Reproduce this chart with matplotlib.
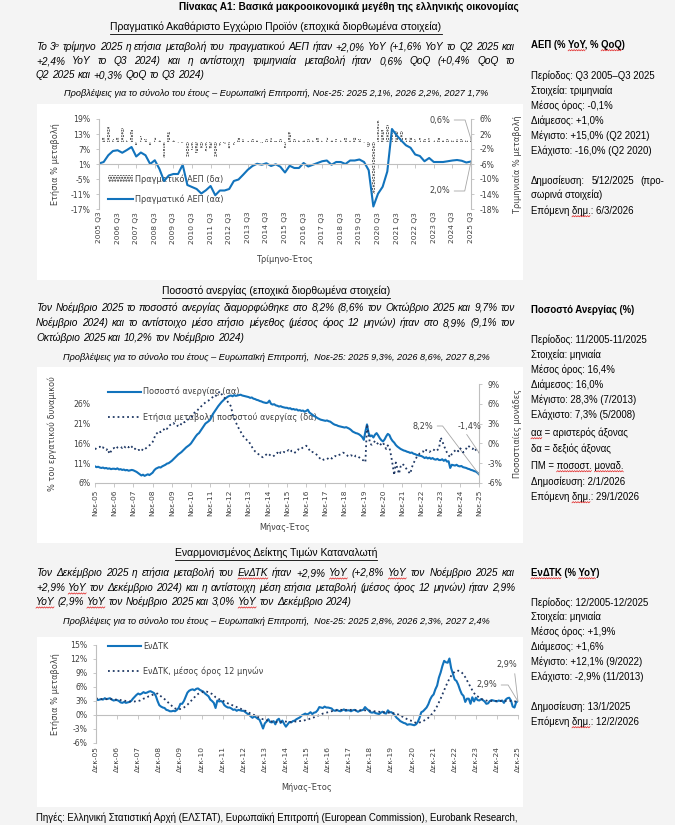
import matplotlib
matplotlib.use('Agg')
import numpy as np
from matplotlib import pyplot as plt
from matplotlib.patches import Rectangle, Patch
from matplotlib.lines import Line2D

# 1 data

q_labels = ['2005 Q3', '2006 Q3', '2007 Q3', '2008 Q3', '2009 Q3', '2010 Q3', '2011 Q3',
            '2012 Q3', '2013 Q3', '2014 Q3', '2015 Q3', '2016 Q3', '2017 Q3', '2018 Q3',
            '2019 Q3', '2020 Q3', '2021 Q3', '2022 Q3', '2023 Q3', '2024 Q3', '2025 Q3']

# real GDP, y/y % (left axis), Q3 2005 .. Q3 2025
gdp_yoy = [1.2, 1.8, 4.5, 6.2, 6.5, 5.5, 6.6, 7.8, 4.0, 5.6,
           4.5, 1.0, 2.5, -1.0, -5.8, -3.6, -3.0, -3.0, 0.7, -7.4,
           -8.2, -9.0, -10.8, -9.5, -7.8, -11.5, -9.6, -9.6, -9.0, -5.8,
           -5.2, -3.3, -1.3, 0.2, 1.1, 0.7, 1.3, 0.2, 0.9, -0.1,
           -2.4, 0.3, -0.6, -0.6, 1.4, 0.0, 0.7, 1.4, 2.1, 2.4,
           0.7, 1.8, 1.8, 1.0, 2.4, 2.4, 2.8, 1.8, -1.5, -16.0,
           -10.9, -8.1, -2.0, 15.0, 12.5, 10.4, 8.5, 7.5, 4.8, 4.2,
           2.1, 3.4, 1.8, 1.8, 1.8, 2.1, 2.4, 2.6, 2.3, 1.6,
           2.0]

# real GDP, q/q % (right axis)
gdp_qoq = [0.6, 1.2, 3.8, 0.8, 1.2, 3.6, 0.4, 3.0, -0.8, 1.6,
           0.7, -0.9, 1.2, 0.3, -4.5, 2.6, 0.4, -0.5, -0.3, -4.2,
           -2.3, -3.1, -1.6, -2.9, -2.1, -4.0, -1.2, -0.6, -2.1, -1.0,
           0.9, 0.6, 0.2, 0.8, 0.4, -0.3, 0.7, 0.9, 0.2, 0.6,
           -1.7, 2.6, 0.6, 0.3, 0.5, 0.8, 0.3, 0.9, 0.4, 1.3,
           0.4, 0.8, 0.5, 1.0, 0.4, 1.2, 0.6, -0.3, -1.5, -14.0,
           5.8, 3.0, 4.5, 3.4, 2.8, 2.9, 1.0, 1.3, 0.7, 1.0,
           0.6, 1.0, 0.3, 0.9, 0.5, 0.7, 0.3, 0.6, 0.8, 0.4,
           0.6]

u_labels = ['Νοε-05', 'Νοε-06', 'Νοε-07', 'Νοε-08', 'Νοε-09', 'Νοε-10', 'Νοε-11',
            'Νοε-12', 'Νοε-13', 'Νοε-14', 'Νοε-15', 'Νοε-16', 'Νοε-17', 'Νοε-18',
            'Νοε-19', 'Νοε-20', 'Νοε-21', 'Νοε-22', 'Νοε-23', 'Νοε-24', 'Νοε-25']

# unemployment rate %, Nov-05 .. Nov-25 (one row = Nov..Oct)
unemp = [10.2, 10.0, 10.1, 9.9, 9.8, 9.9, 9.7, 9.8, 9.6, 9.7, 9.5, 9.6,
         9.6, 9.5, 9.7, 9.4, 9.5, 9.3, 9.4, 9.2, 9.3, 9.1, 9.2, 9.3,
         9.2, 9.0, 8.8, 8.5, 8.2, 7.9, 8.1, 7.8, 8.0, 8.2, 8.0, 8.3,
         8.6, 9.2, 9.6, 9.8, 10.0, 9.9, 10.2, 10.4, 10.6, 10.9, 11.0, 11.3,
         11.6, 12.0, 12.4, 12.8, 13.2, 13.5, 13.8, 14.2, 14.6, 15.0, 15.3, 15.6,
         16.0, 16.6, 17.2, 17.8, 18.3, 18.6, 19.2, 19.8, 20.4, 21.0, 21.3, 21.6,
         22.0, 22.8, 23.6, 24.2, 24.8, 25.4, 25.9, 26.4, 26.8, 27.2, 27.5, 27.8,
         28.0, 28.1, 27.9, 28.2, 28.0, 28.1, 28.2, 28.3, 28.1, 28.0, 27.9, 27.8,
         27.7, 27.5, 27.6, 27.3, 27.2, 27.0, 26.9, 26.7, 26.6, 26.4, 26.3, 26.2,
         26.3, 26.8, 26.0, 25.8, 25.9, 25.6, 25.5, 25.3, 25.4, 25.2, 25.1, 25.0,
         25.0, 24.8, 24.9, 24.6, 24.7, 24.5, 24.6, 24.3, 24.4, 24.2, 24.3, 24.0,
         24.2, 24.5, 23.8, 23.5, 23.2, 22.9, 22.7, 22.4, 22.2, 22.0, 21.9, 21.8,
         21.7, 21.8, 21.6, 21.5, 21.2, 20.9, 20.7, 20.6, 20.4, 20.3, 20.2, 20.1,
         20.0, 20.1, 19.9, 19.7, 19.4, 19.0, 18.8, 18.6, 18.5, 18.3, 18.0, 17.6,
         16.9, 19.0, 20.8, 18.6, 17.8, 18.0, 17.5, 18.2, 18.6, 18.0, 17.3, 16.8,
         16.5, 17.0, 17.8, 18.4, 18.1, 17.2, 16.6, 16.2, 15.6, 15.2, 14.9, 14.6,
         14.4, 14.2, 14.1, 13.9, 13.8, 13.6, 13.7, 13.4, 13.3, 13.1, 13.0, 12.9,
         12.8, 12.6, 12.3, 12.5, 12.2, 12.4, 12.1, 12.3, 12.0, 11.9, 12.1, 11.8,
         11.8, 12.0, 11.6, 11.9, 11.4, 11.5, 9.8, 10.6, 10.5, 10.4, 10.6, 10.3,
         10.2, 10.3, 10.0, 9.9, 9.8, 9.6, 9.5, 9.3, 9.2, 9.0, 8.9, 8.6,
         8.2]

# annual change of the unemployment rate, p.p. (right axis)
unemp_chg = [-0.9, -0.7, -0.6, -0.5, -0.8, -0.6, -0.9, -1.0, -0.8, -1.6, -1.2, -0.8,
             -0.7, -0.9, -0.6, -0.5, -0.5, -0.7, -0.4, -0.6, -0.4, -0.6, -0.3, -0.5,
             -0.9, -0.8, -1.1, -1.0, -1.0, -1.2, -0.8, -0.9, -0.7, -0.5, -0.3, -0.1,
             0.2, 0.8, 1.4, 1.6, 1.9, 1.7, 2.0, 2.1, 2.4, 2.2, 2.6, 2.8,
             2.9, 3.1, 2.8, 2.6, 2.7, 2.6, 3.0, 3.3, 3.2, 3.5, 3.6, 3.8,
             3.9, 4.2, 4.6, 4.9, 5.0, 5.3, 5.5, 5.8, 6.0, 6.2, 6.4, 6.5,
             6.7, 6.9, 7.1, 7.0, 7.4, 7.6, 7.9, 7.5, 7.2, 6.9, 6.6, 6.3,
             6.0, 5.6, 4.4, 3.8, 3.2, 2.7, 2.2, 1.8, 1.3, 1.0, 0.7, 0.5,
             0.4, -0.1, -0.5, -0.9, -1.2, -1.35, -1.6, -1.8, -2.0, -2.1, -1.9, -1.7,
             -1.5, -1.7, -1.9, -2.0, -1.85, -1.6, -1.4, -1.7, -1.35, -1.5, -1.3, -1.4,
             -1.2, -1.0, -1.3, -1.1, -1.1, -1.4, -1.2, -0.9, -1.0, -0.8, -0.6, -0.5,
             -0.35, -0.6, -1.0, -1.35, -1.3, -1.5, -1.6, -1.8, -2.1, -2.4, -2.3, -2.5,
             -2.5, -2.4, -2.2, -2.1, -2.3, -2.0, -1.9, -2.0, -1.8, -1.7, -1.6, -1.4,
             -1.5, -1.7, -1.9, -2.0, -1.8, -1.9, -2.1, -1.85, -1.9, -2.1, -2.3, -2.5,
             -2.6, -2.85, 2.9, 1.2, -0.1, -0.2, 0.0, 0.4, 0.1, -0.1, -0.35, 0.0,
             0.15, -0.4, -0.85, -0.3, -0.6, -1.8, -3.2, -4.8, -2.9, -3.8, -4.6, -3.5,
             -3.1, -3.3, -3.6, -4.0, -4.3, -4.6, -3.7, -3.0, -2.6, -2.1, -1.8, -1.5,
             -1.35, -1.2, -1.4, -1.0, -1.1, -1.3, -1.1, -0.9, -1.0, -1.2, -1.0, -0.8,
             0.9, 0.4, -0.3, -0.85, -1.4, -1.8, -2.1, -1.6, -1.3, -1.1, -0.9, -1.2,
             -0.7, -0.9, -1.35, -1.2, -0.8, -0.35, -0.5, -0.7, -0.85, -0.6, -1.0, -1.2,
             -1.4]

h_labels = ['Δεκ-05', 'Δεκ-06', 'Δεκ-07', 'Δεκ-08', 'Δεκ-09', 'Δεκ-10', 'Δεκ-11',
            'Δεκ-12', 'Δεκ-13', 'Δεκ-14', 'Δεκ-15', 'Δεκ-16', 'Δεκ-17', 'Δεκ-18',
            'Δεκ-19', 'Δεκ-20', 'Δεκ-21', 'Δεκ-22', 'Δεκ-23', 'Δεκ-24', 'Δεκ-25']

# HICP y/y %, Dec-05 .. Dec-25 (one row = Dec..Nov)
hicp = [3.5, 3.2, 3.3, 3.4, 3.3, 3.6, 3.4, 3.5, 3.6, 3.3, 3.1, 3.2,
        3.2, 3.0, 2.7, 2.6, 2.8, 2.6, 2.7, 2.8, 3.0, 3.5, 3.9, 4.3,
        4.6, 4.4, 4.6, 4.9, 4.7, 4.8, 5.0, 5.1, 4.9, 4.7, 4.1, 3.0,
        2.1, 1.8, 1.6, 1.5, 1.1, 1.0, 0.8, 0.8, 0.9, 0.8, 1.1, 1.5,
        2.4, 2.4, 3.0, 3.9, 4.8, 5.2, 5.4, 5.5, 5.3, 5.6, 5.7, 5.4,
        5.2, 5.0, 4.6, 4.3, 4.0, 3.3, 3.0, 2.6, 1.5, 3.1, 2.9, 3.0,
        2.8, 2.1, 1.8, 1.6, 1.6, 1.4, 1.1, 1.2, 0.9, 1.1, 1.0, 0.9,
        0.9, 0.6, 0.3, 0.1, -0.3, -0.6, -0.3, -0.5, -0.8, -1.0, -1.9, -2.9,
        -1.8, -1.4, -0.9, -1.5, -1.6, -1.3, -2.0, -1.1, -0.8, -1.7, -1.2, -1.9,
        -2.5, -2.0, -1.5, -1.6, -1.3, -1.2, -0.9, -0.7, -0.5, -0.1, 0.1, 0.3,
        0.1, 0.3, 0.6, 0.2, 0.5, 0.6, 1.0, 1.7, 1.6, 1.5, 1.8, 1.6,
        1.6, 1.5, 1.4, 1.0, 0.9, 1.1, 0.9, 0.8, 1.0, 1.2, 0.9, 1.0,
        1.0, 0.8, 1.0, 1.1, 0.9, 0.7, 0.9, 1.0, 1.1, 1.7, 1.3, 1.0,
        0.6, 0.5, 0.6, 0.4, 0.3, 0.2, 0.5, 0.7, 0.4, 0.3, 1.0, 0.6,
        0.6, 0.3, -0.1, -0.6, -0.9, -1.3, -1.5, -1.7, -1.8, -2.1, -2.0, -2.0,
        -2.1, -2.2, -2.0, -1.5, -0.6, 0.6, 0.8, 1.2, 1.6, 2.3, 3.3, 4.0,
        4.4, 5.5, 6.3, 8.0, 9.1, 10.5, 11.6, 11.3, 11.2, 12.1, 10.0, 8.8,
        7.6, 7.3, 6.5, 5.4, 4.5, 4.1, 2.8, 3.5, 3.5, 2.4, 3.8, 2.9,
        3.7, 3.2, 3.1, 3.4, 3.2, 2.9, 2.4, 2.5, 3.0, 3.2, 3.1, 3.0,
        2.9, 3.1, 3.0, 3.1, 2.6, 3.3, 3.6, 3.7, 3.1, 1.8, 1.6, 2.8,
        2.9]

# HICP, 12-month average %
hicp_avg = [3.5, 3.5, 3.4, 3.4, 3.4, 3.4, 3.4, 3.4, 3.4, 3.4, 3.3, 3.3,
            3.3, 3.3, 3.2, 3.1, 3.1, 3.0, 3.0, 2.9, 2.9, 2.9, 2.9, 3.0,
            3.0, 3.1, 3.3, 3.5, 3.6, 3.8, 4.0, 4.1, 4.3, 4.4, 4.5, 4.6,
            4.2, 4.0, 3.7, 3.4, 3.1, 2.7, 2.3, 2.0, 1.6, 1.4, 1.3, 1.2,
            1.3, 1.4, 1.6, 1.9, 2.2, 2.6, 3.0, 3.4, 3.8, 4.2, 4.5, 4.7,
            4.8, 5.0, 5.0, 5.0, 4.9, 4.7, 4.5, 4.2, 3.8, 3.6, 3.4, 3.2,
            3.1, 2.9, 2.7, 2.5, 2.3, 2.2, 2.0, 1.9, 1.7, 1.5, 1.4, 1.2,
            1.0, 0.9, 0.7, 0.5, 0.3, 0.1, 0.0, -0.2, -0.4, -0.6, -0.8, -0.9,
            -0.9, -1.1, -1.2, -1.3, -1.4, -1.4, -1.5, -1.5, -1.5, -1.5, -1.4, -1.4,
            -1.4, -1.5, -1.5, -1.5, -1.5, -1.4, -1.4, -1.3, -1.3, -1.2, -1.2, -1.1,
            -1.0, -0.9, -0.7, -0.6, -0.5, -0.3, -0.2, 0.0, 0.1, 0.3, 0.4, 0.5,
            0.6, 0.7, 0.8, 0.9, 1.0, 1.0, 1.1, 1.1, 1.1, 1.1, 1.1, 1.1,
            1.1, 1.1, 1.1, 1.1, 1.0, 1.0, 1.0, 1.0, 1.0, 1.0, 1.0, 1.0,
            0.9, 0.9, 0.8, 0.8, 0.7, 0.7, 0.6, 0.6, 0.6, 0.5, 0.5, 0.5,
            0.5, 0.4, 0.3, 0.2, 0.1, -0.1, -0.3, -0.5, -0.7, -0.9, -1.1, -1.2,
            -1.3, -1.5, -1.7, -1.7, -1.6, -1.5, -1.3, -1.1, -0.9, -0.6, -0.2, 0.2,
            0.6, 1.2, 1.9, 2.7, 3.5, 4.4, 5.3, 6.2, 7.0, 7.8, 8.4, 8.9,
            9.3, 9.4, 9.5, 9.4, 9.1, 8.7, 8.1, 7.4, 6.7, 6.0, 5.3, 4.7,
            4.2, 4.0, 3.7, 3.5, 3.3, 3.2, 3.1, 3.0, 3.0, 3.0, 3.0, 3.0,
            3.0, 3.0, 3.0, 3.0, 3.0, 3.0, 3.0, 3.0, 3.0, 2.9, 2.9, 2.9,
            2.9]

# 2 page layout (pixel coordinates of the 675x825 page)
W, H = 675, 825
BG = '#f4f4f4'
BLUE = '#1273bc'
NAVY = '#1f3864'
AXC = '#bfbfbf'
TXT = '#404040'
BARC = '#262626'
TFONT = ['Liberation Sans', 'DejaVu Sans']
CS = 5.6  # chart font size

plt.rcParams['font.family'] = ['DejaVu Sans']
plt.rcParams['hatch.linewidth'] = 1.0

fig = plt.figure(figsize=(W / 100, H / 100), dpi=100, facecolor=BG)
renderer = fig.canvas.get_renderer()


def fx(x):
    return x / W


def fy(y):
    return 1 - y / H


def rect(x0, y0, x1, y1):
    return [fx(x0), fy(y1), (x1 - x0) / W, (y1 - y0) / H]


def box(x0, y0, x1, y1):
    fig.add_artist(Rectangle((fx(x0), fy(y1)), (x1 - x0) / W, (y1 - y0) / H,
                             transform=fig.transFigure, facecolor='white',
                             edgecolor='none', zorder=-10))


def text_w(text, size, style='normal', weight='normal'):
    t = fig.text(0, 0, text, fontsize=size, style=style, weight=weight, family=TFONT)
    w = t.get_window_extent(renderer).width
    t.remove()
    return w


def fit_size(text, width, style='normal', weight='normal'):
    return 10 * width / text_w(text, 10, style, weight)


def squiggle(x0, x1, y):
    xs = np.arange(x0, x1 + 0.1, 1.2)
    ys = y + 0.6 * np.where(np.arange(len(xs)) % 2 == 0, 1, -1)
    fig.add_artist(Line2D(xs / W, 1 - ys / H, lw=0.5, color='#e02020', transform=fig.transFigure))


P_SIZE = fit_size('Q2 2025 και +0,3% QoQ το Q3 2024)', 169, style='italic')
S_SIZE = 1.07 * fit_size('Περίοδος: Q3 2005–Q3 2025', 117)
F_SIZE = fit_size('Προβλέψεις για το σύνολο του έτους – Ευρωπαϊκή Επιτροπή, Νοε-25: 2025 2,1%, 2026 2,2%, 2027 1,7%',
                  423, style='italic')


def put_line(y, text, size=None, style='italic', x0=36, x1=515, justify=True, marks=()):
    size = size or P_SIZE
    words = text.split()
    objs = [fig.text(fx(x0), fy(y), w, fontsize=size, style=style,
                     family=TFONT, va='center', ha='left', color='black') for w in words]
    widths = [o.get_window_extent(renderer).width for o in objs]
    if justify and len(words) > 1:
        gap = (x1 - x0 - sum(widths)) / (len(words) - 1)
    else:
        gap = text_w('a a', size, style) - text_w('aa', size, style)
    x = x0
    for o, w, word in zip(objs, widths, words):
        o.set_x(fx(x))
        if word.strip('(),.') in marks:
            lead = text_w('(', size, style) if word.startswith('(') else 0
            squiggle(x + lead, x + w, y + size * 0.75)
        x += w + gap


def heading(y, text, width, xc=276):
    size = fit_size(text, width)
    t = fig.text(fx(xc), fy(y), text, fontsize=size, family=TFONT, ha='center', va='center')
    w = t.get_window_extent(renderer).width
    fig.add_artist(Line2D([fx(xc - w / 2), fx(xc + w / 2)], [fy(y + 6.5), fy(y + 6.5)],
                          lw=0.6, color='black', transform=fig.transFigure))


def centered(y, text, xc=276):
    fig.text(fx(xc), fy(y), text, fontsize=F_SIZE, family=TFONT, style='italic',
             ha='center', va='center')


def side(y, text, bold=False, marks=()):
    weight = 'bold' if bold else 'normal'
    fig.text(fx(531), fy(y), text, fontsize=S_SIZE, family=TFONT,
             weight=weight, ha='left', va='center')
    for m in marks:
        i = text.index(m)
        a = 531 + (text_w(text[:i], S_SIZE, weight=weight) if i else 0)
        b = a + text_w(m, S_SIZE, weight=weight)
        squiggle(a, b, y + S_SIZE * 0.75)


def pct(vals):
    return [f'{v}%' for v in vals]


def style_ticks(ax):
    ax.tick_params(labelsize=CS, labelcolor=TXT, color=AXC, length=2.5, width=0.6)


box(37, 104, 523, 280)
box(37, 367, 523, 543)
box(37, 637, 523, 807)

title = 'Πίνακας Α1: Βασικά μακροοικονομικά μεγέθη της ελληνικής οικονομίας'
fig.text(fx(349), fy(7), title, fontsize=fit_size(title, 337, weight='bold'),
         weight='bold', family=TFONT, ha='center', va='center')

# 3 text, GDP block
heading(27, 'Πραγματικό Ακαθάριστο Εγχώριο Προϊόν (εποχικά διορθωμένα στοιχεία)', 334)
put_line(47, 'Το 3ᵒ τρίμηνο 2025 η ετήσια μεταβολή του πραγματικού ΑΕΠ ήταν +2,0% YoY (+1,6% YoY το Q2 2025 και')
put_line(61, '+2,4% YoY το Q3 2024) και η αντίστοιχη τριμηνιαία μεταβολή ήταν 0,6% QoQ (+0,4% QoQ το')
put_line(75, 'Q2 2025 και +0,3% QoQ το Q3 2024)', justify=False)
centered(93, 'Προβλέψεις για το σύνολο του έτους – Ευρωπαϊκή Επιτροπή, Νοε-25: 2025 2,1%, 2026 2,2%, 2027 1,7%')

side(45, 'ΑΕΠ (% YoY, % QoQ)', bold=True, marks=('YoY', 'QoQ'))
side(76, 'Περίοδος: Q3 2005–Q3 2025')
side(91, 'Στοιχεία: τριμηνιαία')
side(106, 'Μέσος όρος: -0,1%')
side(121, 'Διάμεσος: +1,0%')
side(136, 'Μέγιστο: +15,0% (Q2 2021)')
side(151, 'Ελάχιστο: -16,0% (Q2 2020)')
put_line(181, 'Δημοσίευση: 5/12/2025 (προ-', size=S_SIZE, style='normal', x0=531, x1=664)
side(195, 'σωρινά στοιχεία)')
side(211, 'Επόμενη δημ.: 6/3/2026', marks=('δημ.',))

# 4 chart, GDP
qx = np.arange(len(gdp_yoy))
ax1 = fig.add_axes(rect(99, 119, 471, 209))
ax1r = ax1.twinx()
ax1r.bar(qx, gdp_qoq, width=0.55, facecolor='none', edgecolor=BARC, hatch='......', lw=0)
ax1.plot(qx, gdp_yoy, color=BLUE, lw=1.5)
ax1.set_zorder(ax1r.get_zorder() + 1)
ax1.patch.set_visible(False)

ax1.set_xlim(0, 80)
ax1.set_ylim(-17, 19)
ax1.set_yticks(range(-17, 20, 6), pct(range(-17, 20, 6)))
ax1r.set_ylim(-18, 6)
ax1r.set_yticks(range(-18, 7, 4), pct(range(-18, 7, 4)))
for s in ['top', 'right']:
    ax1.spines[s].set_visible(False)
for s in ['top', 'left', 'bottom']:
    ax1r.spines[s].set_visible(False)
ax1.spines['left'].set_color(AXC)
ax1r.spines['right'].set_color(AXC)
ax1.spines['bottom'].set_color(AXC)
ax1.spines['bottom'].set_position(('data', 1))
ax1.set_xticks(range(0, 81, 4))
sec1 = ax1.secondary_xaxis('bottom')
sec1.set_xticks(range(0, 81, 4), q_labels)
sec1.tick_params(length=0, labelsize=CS - 0.2, labelcolor=TXT, labelrotation=90, pad=2)
sec1.spines['bottom'].set_visible(False)
style_ticks(ax1)
style_ticks(ax1r)
ax1.tick_params(axis='x', labelbottom=False, direction='out', length=3)
ax1.set_ylabel('Ετήσια % μεταβολή', fontsize=CS + 0.3, color=TXT)
ax1.yaxis.set_label_coords(-0.105, 0.5)
ax1r.set_ylabel('Τριμηνιαία % μεταβολή', fontsize=CS + 0.3, color=TXT, rotation=90)
ax1r.yaxis.set_label_coords(1.113, 0.5)
fig.text(fx(285), fy(260), 'Τρίμηνο-Έτος', fontsize=CS + 0.3, color=TXT, ha='center', va='center')

h_bar = Patch(facecolor='none', edgecolor=BARC, hatch='......', lw=0)
h_line = Line2D([], [], color=BLUE, lw=1.5)
leg1 = ax1.legend([h_bar, h_line], ['Πραγματικό ΑΕΠ (δα)', 'Πραγματικό ΑΕΠ (αα)'],
                  loc='upper left', bbox_to_anchor=(fx(108), fy(174)), bbox_transform=fig.transFigure,
                  frameon=False, fontsize=CS + 0.3, labelcolor=TXT, handlelength=3.0,
                  handleheight=0.9, handletextpad=0.3, labelspacing=1.3, borderaxespad=0, borderpad=0)
leg1.set_zorder(1)

ax1r.annotate('0,6%', xy=(80, gdp_qoq[-1]), xytext=(450, H - 120), textcoords='figure pixels',
              ha='right', va='center', fontsize=CS + 0.3, color=TXT,
              arrowprops=dict(arrowstyle='-', color='#a6a6a6', lw=0.6, shrinkA=1, shrinkB=0,
                              relpos=(1, 0.5), connectionstyle='angle,angleA=0,angleB=107,rad=0'))
ax1.annotate('2,0%', xy=(80, gdp_yoy[-1]), xytext=(450, H - 191), textcoords='figure pixels',
             ha='right', va='center', fontsize=CS + 0.3, color=TXT,
             arrowprops=dict(arrowstyle='-', color='#a6a6a6', lw=0.6, shrinkA=1, shrinkB=0,
                             relpos=(1, 0.5), connectionstyle='angle,angleA=0,angleB=78,rad=0'))

# 5 text, unemployment block
heading(291, 'Ποσοστό ανεργίας (εποχικά διορθωμένα στοιχεία)', 230)
put_line(308, 'Τον Νοέμβριο 2025 το ποσοστό ανεργίας διαμορφώθηκε στο 8,2% (8,6% τον Οκτώβριο 2025 και 9,7% τον')
put_line(323, 'Νοέμβριο 2024) και το αντίστοιχο μέσο ετήσιο μέγεθος (μέσος όρος 12 μηνών) ήταν στο 8,9% (9,1% τον')
put_line(338, 'Οκτώβριο 2025 και 10,2% τον Νοέμβριο 2024)', justify=False)
centered(358, 'Προβλέψεις για το σύνολο του έτους – Ευρωπαϊκή Επιτροπή,  Νοε-25: 2025 9,3%, 2026 8,6%, 2027 8,2%')

side(310, 'Ποσοστό Ανεργίας (%)', bold=True)
side(340, 'Περίοδος: 11/2005-11/2025')
side(355, 'Στοιχεία: μηνιαία')
side(370, 'Μέσος όρος: 16,4%')
side(385, 'Διάμεσος: 16,0%')
side(400, 'Μέγιστο: 28,3% (7/2013)')
side(415, 'Ελάχιστο: 7,3% (5/2008)')
side(433, 'αα = αριστερός άξονας', marks=('αα',))
side(449, 'δα = δεξιός άξονας')
side(466, 'ΠΜ = ποσοστ. μοναδ.', marks=('ποσοστ.', 'μοναδ.'))
side(482, 'Δημοσίευση: 2/1/2026')
side(497, 'Επόμενη δημ.: 29/1/2026', marks=('δημ.',))

# 6 chart, unemployment
mx = np.arange(len(unemp))
ax2 = fig.add_axes(rect(95, 384, 479, 483))
ax2r = ax2.twinx()
ax2.plot(mx, unemp, color=BLUE, lw=1.5)
ax2r.plot(mx, unemp_chg, color=NAVY, lw=1.3, ls=':')
ax2.set_xlim(0, 240)
ax2.set_ylim(6, 31)
ax2.set_yticks(range(6, 27, 5), pct(range(6, 27, 5)))
ax2r.set_ylim(-6, 9)
ax2r.set_yticks(range(-6, 10, 3), pct(range(-6, 10, 3)))
ax2.set_xticks(range(0, 241, 12), u_labels)
for s in ['top', 'right', 'left']:
    ax2.spines[s].set_visible(False)
for s in ['top', 'left', 'bottom']:
    ax2r.spines[s].set_visible(False)
ax2.spines['bottom'].set_color(AXC)
ax2r.spines['right'].set_color(AXC)
style_ticks(ax2)
style_ticks(ax2r)
ax2.tick_params(axis='y', length=0)
ax2.tick_params(axis='x', labelrotation=90, labelsize=CS - 0.2, length=3, pad=2)
ax2.set_ylabel('% του εργατικού δυναμικού', fontsize=CS + 0.3, color=TXT)
ax2.yaxis.set_label_coords(-0.099, 0.5)
ax2r.set_ylabel('Ποσοστιαίες μονάδες', fontsize=CS + 0.3, color=TXT, rotation=90)
ax2r.yaxis.set_label_coords(1.089, 0.5)
fig.text(fx(285), fy(528), 'Μήνας-Έτος', fontsize=CS + 0.3, color=TXT, ha='center', va='center')

h_u = Line2D([], [], color=BLUE, lw=1.5)
h_c = Line2D([], [], color=NAVY, lw=1.3, ls=':')
leg2 = ax2.legend([h_u, h_c], ['Ποσοστό ανεργίας (αα)', 'Ετήσια μεταβολή ποσοστού ανεργίας (δα)'],
                  loc='upper left', bbox_to_anchor=(fx(108), fy(387)), bbox_transform=fig.transFigure,
                  frameon=False, fontsize=CS + 0.3, labelcolor=TXT, handlelength=4.0,
                  handletextpad=0.3, labelspacing=1.9, borderaxespad=0, borderpad=0)
leg2.set_zorder(1)

ax2.annotate('8,2%', xy=(240, unemp[-1]), xytext=(433, H - 426), textcoords='figure pixels',
             ha='right', va='center', fontsize=CS + 0.3, color=TXT,
             arrowprops=dict(arrowstyle='-', color='#a6a6a6', lw=0.6, shrinkA=1, shrinkB=0,
                             relpos=(1, 0.5), connectionstyle='angle,angleA=0,angleB=127,rad=0'))
ax2r.annotate('-1,4%', xy=(240, unemp_chg[-1]), xytext=(470, H - 426), textcoords='figure pixels',
              ha='center', va='center', fontsize=CS + 0.3, color=TXT,
              arrowprops=dict(arrowstyle='-', color='#a6a6a6', lw=0.6, shrinkA=1, shrinkB=0,
                              relpos=(0.25, 0)))

# 7 text, HICP block
heading(553, 'Εναρμονισμένος Δείκτης Τιμών Καταναλωτή', 202)
mk = ('ΕνΔΤΚ', 'YoY')
put_line(573, 'Τον Δεκέμβριο 2025 η ετήσια μεταβολή του ΕνΔΤΚ ήταν +2,9% YoY (+2,8% YoY τον Νοέμβριο 2025 και', marks=mk)
put_line(588, '+2,9% YoY τον Δεκέμβριο 2024) και η αντίστοιχη μέση ετήσια μεταβολή (μέσος όρος 12 μηνών) ήταν 2,9%', marks=mk)
put_line(602, 'YoY (2,9% YoY τον Νοέμβριο 2025 και 3,0% YoY τον Δεκέμβριο 2024)', justify=False, marks=mk)
centered(622, 'Προβλέψεις για το σύνολο του έτους – Ευρωπαϊκή Επιτροπή,  Νοε-25: 2025 2,8%, 2026 2,3%, 2027 2,4%')

side(573, 'ΕνΔΤΚ (% YoY)', bold=True, marks=('ΕνΔΤΚ', 'YoY'))
side(603, 'Περίοδος: 12/2005-12/2025')
side(617, 'Στοιχεία: μηνιαία')
side(632, 'Μέσος όρος: +1,9%')
side(647, 'Διάμεσος: +1,6%')
side(662, 'Μέγιστο: +12,1% (9/2022)')
side(677, 'Ελάχιστο: -2,9% (11/2013)')
side(707, 'Δημοσίευση: 13/1/2025')
side(722, 'Επόμενη δημ.: 12/2/2026', marks=('δημ.',))

# 8 chart, HICP
hx = np.arange(len(hicp))
ax3 = fig.add_axes(rect(96, 645, 518, 743))
ax3.plot(hx, hicp, color=BLUE, lw=1.5)
ax3.plot(hx, hicp_avg, color=NAVY, lw=1.3, ls=':')
ax3.set_xlim(0, 240)
ax3.set_ylim(-6, 15)
ax3.set_yticks(range(-6, 16, 3), pct(range(-6, 16, 3)))
for s in ['top', 'right']:
    ax3.spines[s].set_visible(False)
ax3.spines['left'].set_color(AXC)
ax3.spines['bottom'].set_color(AXC)
ax3.spines['bottom'].set_position(('data', 0))
ax3.set_xticks(range(0, 241, 12))
style_ticks(ax3)
ax3.tick_params(axis='x', labelbottom=False, length=3)
sec3 = ax3.secondary_xaxis('bottom')
sec3.set_xticks(range(0, 241, 12), h_labels)
sec3.tick_params(length=0, labelsize=CS - 0.2, labelcolor=TXT, labelrotation=90, pad=2)
sec3.spines['bottom'].set_visible(False)
ax3.set_ylabel('Ετήσια % μεταβολή', fontsize=CS + 0.3, color=TXT)
ax3.yaxis.set_label_coords(-0.085, 0.5)
fig.text(fx(307), fy(787), 'Μήνας-Έτος', fontsize=CS + 0.3, color=TXT, ha='center', va='center')

h_h = Line2D([], [], color=BLUE, lw=1.5)
h_a = Line2D([], [], color=NAVY, lw=1.3, ls=':')
leg3 = ax3.legend([h_h, h_a], ['ΕνΔΤΚ', 'ΕνΔΤΚ, μέσος όρος 12 μηνών'],
                  loc='upper left', bbox_to_anchor=(fx(108), fy(642)), bbox_transform=fig.transFigure,
                  frameon=False, fontsize=CS + 0.3, labelcolor=TXT, handlelength=4.0,
                  handletextpad=0.3, labelspacing=1.9, borderaxespad=0, borderpad=0)
leg3.set_zorder(1)

ax3.annotate('2,9%', xy=(240, hicp[-1]), xytext=(507, H - 665), textcoords='figure pixels',
             ha='center', va='center', fontsize=CS + 0.3, color=TXT,
             arrowprops=dict(arrowstyle='-', color='#a6a6a6', lw=0.6, shrinkA=1, shrinkB=0,
                             relpos=(0.85, 0)))
ax3.annotate('2,9%', xy=(240, hicp_avg[-1]), xytext=(497, H - 685), textcoords='figure pixels',
             ha='right', va='center', fontsize=CS + 0.3, color=TXT,
             arrowprops=dict(arrowstyle='-', color='#a6a6a6', lw=0.6, shrinkA=1, shrinkB=0,
                             relpos=(1, 0.5), connectionstyle='angle,angleA=0,angleB=121,rad=0'))

# 9 footer
foot = 'Πηγές: Ελληνική Στατιστική Αρχή (ΕΛΣΤΑΤ), Ευρωπαϊκή Επιτροπή (European Commission), Eurobank Research,'
fig.text(fx(36), fy(818), foot, fontsize=fit_size(foot, 481), family=TFONT, ha='left', va='center')

fig.savefig('out.png', dpi=100, facecolor=BG)
